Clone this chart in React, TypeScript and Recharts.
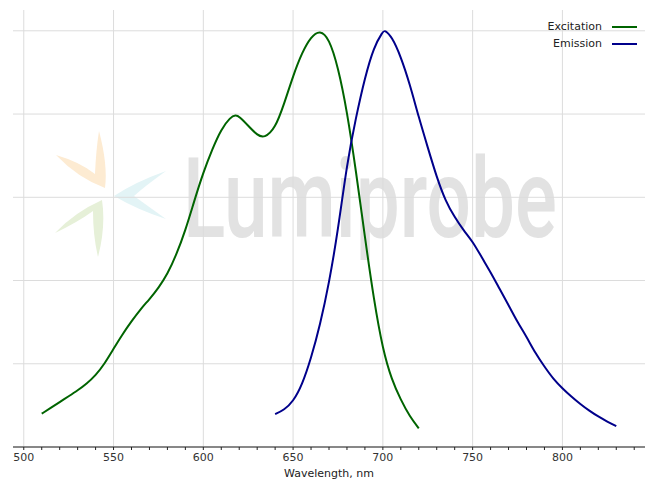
import { CartesianGrid, Line, LineChart, XAxis, YAxis } from "recharts";

const exWavelengths = [
  510, 515, 520, 525, 530, 535, 540, 545, 550, 555, 560, 565, 570, 575, 580,
  585, 590, 595, 600, 605, 610, 615, 618, 620, 625, 630, 634, 640, 645, 650,
  655, 660, 665, 670, 675, 680, 685, 690, 695, 700, 705, 710, 715, 720,
];
const exValues = [
  0.08, 0.094, 0.108, 0.122, 0.136, 0.152, 0.172, 0.2, 0.236, 0.271, 0.302,
  0.331, 0.355, 0.382, 0.415, 0.462, 0.52, 0.592, 0.66, 0.716, 0.764, 0.792,
  0.798, 0.794, 0.772, 0.749, 0.742, 0.765, 0.824, 0.892, 0.948, 0.986, 1.002,
  0.982, 0.914, 0.808, 0.664, 0.504, 0.353, 0.233, 0.161, 0.113, 0.073, 0.045,
];

const emWavelengths = [
  640, 645, 650, 655, 660, 665, 670, 675, 680, 685, 690, 695, 700, 701, 705,
  710, 715, 720, 725, 730, 735, 740, 745, 750, 755, 760, 765, 770, 775, 780,
  785, 790, 795, 800, 805, 810, 815, 820, 825, 830,
];
const emValues = [
  0.079, 0.089, 0.109, 0.149, 0.213, 0.293, 0.393, 0.52, 0.681, 0.792, 0.888,
  0.962, 0.998, 1.002, 0.986, 0.938, 0.872, 0.792, 0.72, 0.648, 0.59, 0.552,
  0.52, 0.494, 0.456, 0.42, 0.38, 0.341, 0.3, 0.265, 0.225, 0.193, 0.163,
  0.141, 0.121, 0.103, 0.087, 0.073, 0.061, 0.05,
];

const xTicks = [500, 510, 520, 530, 540, 550, 560, 570, 580, 590, 600, 610, 620, 630, 640, 650, 660, 670, 680, 690, 700, 710, 720, 730, 740, 750, 760, 770, 780, 790, 800, 810, 820, 830, 840];
const xGrid = [500, 550, 600, 650, 700, 750, 800];
const yGrid = [0, 0.2, 0.4, 0.6, 0.8, 1.0];

const seriesLabels = ["Excitation", "Emission"];
const seriesColors = ["#006400", "#00008b"];

const excitation = exWavelengths.map((wl, i) => ({ wl, v: exValues[i] }));
const emission = emWavelengths.map((wl, i) => ({ wl, v: emValues[i] }));

const FONT = "'DejaVu Sans', sans-serif";

function Tick(props: any) {
  const { x, y, payload } = props;
  if (payload.value % 50 !== 0) return null;
  return (
    <text x={x} y={y} dy="0.71em" textAnchor="middle" fontSize={11} fill="#333" fontFamily={FONT}>
      {payload.value}
    </text>
  );
}

function Watermark() {
  return (
    <svg width={646} height={480} style={{ position: "absolute", left: 0, top: 0 }}>
      <path d="M56,155 Q80,162 95,174 Q96,150 99,131 Q108,165 105,188 Q78,178 56,155 Z" fill="#fdebd2" />
      <path d="M166,171 Q135,182 114,196 Q138,210 166,219 Q145,204 134,196 Q145,186 166,171 Z" fill="#e3f4f6" />
      <path d="M102,200 Q75,212 55,233 Q78,222 93,211 Q93,236 98,257 Q106,226 102,200 Z" fill="#e6f0d8" />
      <text
        x={183}
        y={237}
        fontSize={112}
        fontFamily="Roboto, sans-serif"
        fontWeight={500}
        fill="#e2e2e2"
        textLength={374}
        lengthAdjust="spacingAndGlyphs"
      >
        Lumiprobe
      </text>
    </svg>
  );
}

function LegendBox() {
  return (
    <div style={{ position: "absolute", right: 9, top: 18, fontFamily: FONT, fontSize: 11, color: "#222" }}>
      {seriesLabels.map((name, i) => (
        <div key={name} style={{ display: "flex", justifyContent: "flex-end", alignItems: "center", height: 17 }}>
          <span>{name}</span>
          <span style={{ display: "inline-block", width: 25, height: 2, background: seriesColors[i], marginLeft: 10 }} />
        </div>
      ))}
    </div>
  );
}

export default function App() {
  return (
    <div style={{ position: "absolute", left: 0, top: 0, width: 646, height: 480, background: "#fff" }}>
      <Watermark />
      <div style={{ position: "absolute", left: 0, top: 0 }}>
        <LineChart width={646} height={480} margin={{ top: 10, right: 1, bottom: 0, left: 13 }}>
          <CartesianGrid stroke="#dcdcdc" verticalValues={xGrid} horizontalValues={yGrid} />
          <XAxis
            dataKey="wl"
            type="number"
            domain={[494, 846]}
            ticks={xTicks}
            interval={0}
            allowDuplicatedCategory={false}
            height={33}
            tick={<Tick />}
            tickSize={3}
            tickMargin={3}
            stroke="#222"
            label={{ value: "Wavelength, nm", position: "insideBottom", offset: 3, fontSize: 11, fill: "#222", fontFamily: FONT }}
          />
          <YAxis hide domain={[0, 1.05]} ticks={yGrid} />
          <Line
            data={excitation}
            dataKey="v"
            type="basis"
            stroke={seriesColors[0]}
            strokeWidth={2}
            dot={false}
            isAnimationActive={false}
          />
          <Line
            data={emission}
            dataKey="v"
            type="basis"
            stroke={seriesColors[1]}
            strokeWidth={2}
            dot={false}
            isAnimationActive={false}
          />
        </LineChart>
      </div>
      <LegendBox />
    </div>
  );
}
